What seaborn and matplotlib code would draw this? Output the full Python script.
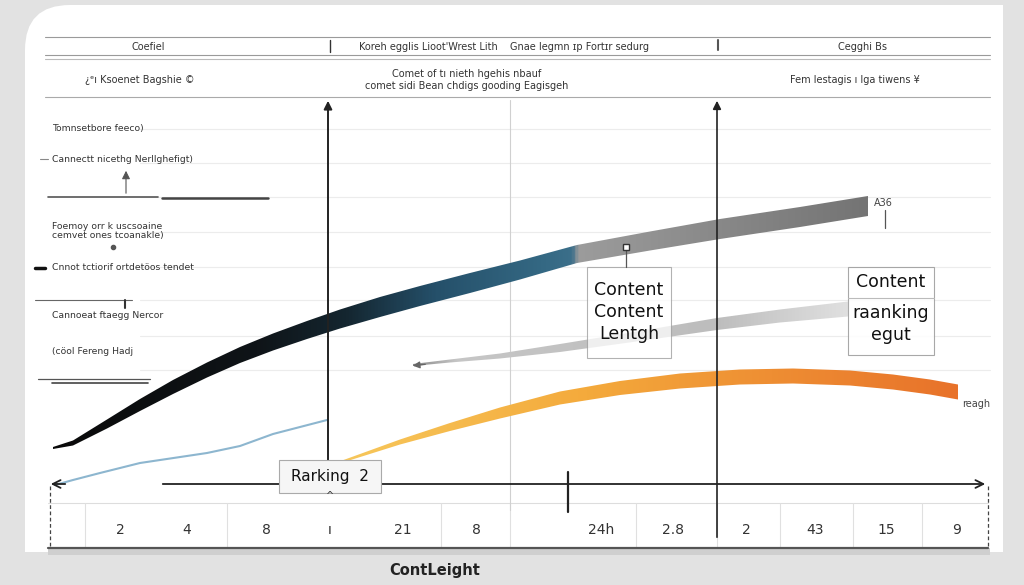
import numpy as np
import matplotlib
matplotlib.use("Agg")
import matplotlib.pyplot as plt
import seaborn as sns
from matplotlib.patches import FancyBboxPatch, Rectangle, Polygon
from matplotlib.colors import LinearSegmentedColormap

# ---- data (picture units) ----
main_x = [53, 73, 107, 140, 173, 207, 240, 273, 307, 340, 380, 420, 470, 520, 577, 650, 720, 800, 868]
main_y = [448, 443, 424, 405, 387, 370, 355, 342, 330, 319, 307, 296, 283, 270, 254, 241, 229, 217, 206]
main_w = [2, 5, 9, 12, 14, 15, 16, 17, 18, 19, 20, 20, 20, 19, 18, 19, 20, 20, 20]

gray_x = [413, 450, 500, 560, 640, 717, 780, 848]
gray_y = [365, 361, 356, 348, 336, 324, 316, 309]
gray_w = [2, 3, 5, 8, 10, 12, 13, 15]

orange_x = [338, 400, 450, 500, 560, 620, 680, 740, 793, 850, 893, 930, 958]
orange_y = [463, 442, 427, 413, 398, 388, 381, 377, 376, 378, 382, 387, 392]
orange_w = [2, 5, 8, 11, 13, 14, 15, 15, 15, 15, 15, 15, 15]

blue_x = [55, 73, 100, 140, 207, 240, 273, 327]
blue_y = [485, 480, 473, 463, 453, 446, 434, 420]

cell_vals = ["2", "4", "8", "ı", "21", "8", "24h", "2.8", "2", "43", "15", "9"]
cell_pos = [120, 187, 266, 330, 403, 476, 601, 673, 746, 815, 886, 957]
cell_edges = [85, 227, 441, 510, 636, 717, 780, 853, 922]

header1 = ["Coefiel", "Koreh egglis Lioot'Wrest Lith", "Gnae Iegmn ɪp Fortɪr sedurg", "Cegghi Bs"]
header1_x = [148, 428, 580, 862]
header2 = ["¿ᵉı Ksoenet Bagshie ©", "Comet of tı nieth hgehis nbauf\ncomet sidi Bean chdigs gooding Eagisgeh",
           "Fem lestagis ı lga tiwens ¥"]
header2_x = [140, 467, 855]

left_labels = ["Tomnsetbore feeco)", "Cannectt nicethg Nerllghefigt)",
               "Foemoy orr k uscsoaine\ncemvet ones tcoanakle)", "Cnnot tctiorif ortdetöos tendet",
               "Cannoeat ftaegg Nercor", "(cöol Fereng Hadj"]
left_y = [129, 159, 231, 268, 316, 351]

# ---- figure ----
sns.set_theme(style="white")
plt.rcParams['font.family'] = ['DejaVu Sans']
fig = plt.figure(figsize=(10.24, 5.85), dpi=100, facecolor="#e2e2e2")
ax = fig.add_axes([0, 0, 1, 1])
ax.set_xlim(0, 1024)
ax.set_ylim(585, 0)
ax.axis("off")

# panel
ax.add_patch(FancyBboxPatch((25, 5), 978, 547, boxstyle="round,pad=0,rounding_size=45",
                            facecolor="white", edgecolor="none", zorder=0))
ax.add_patch(Rectangle((500, 5), 503, 547, facecolor="white", edgecolor="none", zorder=0))
ax.add_patch(Rectangle((25, 300), 500, 252, facecolor="white", edgecolor="none", zorder=0))

# header rules
for yy, c, lw in [(37, "#9a9a9a", 0.8), (55, "#9a9a9a", 0.8), (59, "#bbbbbb", 0.8), (97, "#aaaaaa", 0.8)]:
    ax.plot([45, 990], [yy, yy], color=c, lw=lw, zorder=1)
ax.plot([330, 330], [40, 52], color="#333", lw=1, zorder=1)
ax.plot([718, 718], [40, 50], color="#555", lw=1.5, zorder=1)
for t, x in zip(header1, header1_x):
    ax.text(x, 47, t, ha="center", va="center", fontsize=7, color="#333")
for t, x in zip(header2, header2_x):
    ax.text(x, 80, t, ha="center", va="center", fontsize=7, color="#333", linespacing=1.3)

# faint gridlines
for yy in [129, 163, 197, 232, 267, 300, 336, 370]:
    ax.plot([140, 990], [yy, yy], color="#ececec", lw=0.8, zorder=1)

# left labels & decorations
for t, yy in zip(left_labels, left_y):
    ax.text(52, yy, t, ha="left", va="center", fontsize=6.7, color="#333", linespacing=1.1)
ax.plot([40, 48], [159, 159], color="#888", lw=0.8)
ax.plot([48, 158], [197, 197], color="#555", lw=1.2)
ax.plot([162, 268], [198, 198], color="#444", lw=1.8)
ax.annotate("", xy=(126, 168), xytext=(126, 196), arrowprops=dict(arrowstyle="-|>", color="#555", lw=0.8))
ax.plot([113], [247], marker="o", ms=3, color="#555")
ax.plot([35, 45], [268, 268], color="#111", lw=2.5)
ax.plot([35, 132], [300, 300], color="#666", lw=0.8)
ax.plot([125, 125], [300, 308], color="#333", lw=1.5)
ax.plot([38, 150], [379, 379], color="#555", lw=0.9)
ax.plot([52, 148], [383, 383], color="#444", lw=1.2)


def band(xs, ys, ws, colors, z):
    xs = np.asarray(xs, float)
    ys = np.asarray(ys, float)
    ws = np.asarray(ws, float)
    top, bot = ys - ws / 2, ys + ws / 2
    verts = np.concatenate([np.c_[xs, top], np.c_[xs[::-1], bot[::-1]]])
    poly = Polygon(verts, closed=True, facecolor="none", edgecolor="none")
    ax.add_patch(poly)
    cmap = LinearSegmentedColormap.from_list("g", colors)
    grad = np.linspace(0, 1, 512).reshape(1, -1)
    im = ax.imshow(grad, cmap=cmap, extent=[xs.min(), xs.max(), bot.max(), top.min()],
                   aspect="auto", zorder=z, interpolation="bilinear")
    im.set_clip_path(poly)


band(main_x, main_y, main_w,
     [(0, "#0a0a0a"), (0.25, "#0f1418"), (0.36, "#142630"), (0.47, "#25506a"),
      (0.60, "#346883"), (0.638, "#3c6f8a"), (0.645, "#9c9c9c"), (1, "#747474")], 3)
band(gray_x, gray_y, gray_w,
     [(0, "#8a8a8a"), (0.1, "#c6c6c6"), (0.7, "#bdbdbd"), (1, "#e0e0e0")], 3)
band(orange_x, orange_y, orange_w,
     [(0, "#f7c85c"), (0.4, "#f4aa3c"), (1, "#e8722a")], 3)
ax.annotate("", xy=(410, 366), xytext=(428, 364),
            arrowprops=dict(arrowstyle="-|>", color="#666", lw=1, mutation_scale=10), zorder=4)

# thin light blue line
sns.lineplot(x=blue_x, y=blue_y, ax=ax, color="#8db6cf", lw=1.5, sort=False, zorder=3)

# verticals
ax.plot([510, 510], [100, 510], color="#d0d0d0", lw=0.8, zorder=2)
ax.annotate("", xy=(328, 98), xytext=(328, 495),
            arrowprops=dict(arrowstyle="-|>", color="#222", lw=1.4, mutation_scale=12), zorder=5)
ax.annotate("", xy=(717, 98), xytext=(717, 540),
            arrowprops=dict(arrowstyle="-|>", color="#222", lw=1.2, mutation_scale=12), zorder=5)
ax.plot([568, 568], [472, 512], color="#222", lw=1.6, zorder=5)

# horizontal axis arrow
ax.annotate("", xy=(988, 484), xytext=(160, 484),
            arrowprops=dict(arrowstyle="->", color="#222", lw=1.3, mutation_scale=14), zorder=4)
ax.annotate("", xy=(48, 484), xytext=(68, 484),
            arrowprops=dict(arrowstyle="->", color="#222", lw=1.3, mutation_scale=14), zorder=4)

# bottom table
ax.plot([48, 988], [503, 503], color="#dddddd", lw=0.8, zorder=1)
ax.add_patch(Rectangle((48, 548), 942, 7, facecolor="#cfcfcf", edgecolor="none", zorder=1))
ax.plot([48, 988], [548, 548], color="#555", lw=1.6, zorder=2)
for xe in [50, 988]:
    ax.plot([xe, xe], [486, 548], color="#444", lw=0.9, ls=(0, (3, 2)), zorder=2)
for xe in cell_edges:
    ax.plot([xe, xe], [503, 548], color="#e0e0e0", lw=0.8, zorder=1)
for t, x in zip(cell_vals, cell_pos):
    ax.text(x, 530, t, ha="center", va="center", fontsize=10, color="#333")

# annotation boxes
ax.add_patch(Rectangle((587, 267), 84, 91, facecolor="white", alpha=0.75, edgecolor="#999", lw=0.8, zorder=6))
ax.text(629, 312, "Content\nContent\nLentgh", ha="center", va="center", fontsize=12.5,
        color="#111", linespacing=1.3, zorder=7)
ax.plot([626, 626], [248, 267], color="#555", lw=0.9, zorder=6)
ax.plot([626], [247], marker="s", ms=4, mfc="white", mec="#333", zorder=6)

ax.add_patch(Rectangle((848, 267), 86, 88, facecolor="white", alpha=0.85, edgecolor="#999", lw=0.8, zorder=6))
ax.plot([848, 934], [298, 298], color="#bbb", lw=0.8, zorder=7)
ax.text(891, 282, "Content", ha="center", va="center", fontsize=12.5, color="#111", zorder=7)
ax.text(891, 324, "raanking\negut", ha="center", va="center", fontsize=12.5, color="#111",
        linespacing=1.3, zorder=7)

ax.add_patch(Rectangle((279, 460), 102, 33, facecolor="#f6f6f6", edgecolor="#aaa", lw=0.8, zorder=6))
ax.text(330, 476, "Rarking  2", ha="center", va="center", fontsize=11, color="#111", zorder=7)
ax.text(330, 496, "^", ha="center", va="center", fontsize=7, color="#333", zorder=7)

ax.text(874, 203, "A36", ha="left", va="center", fontsize=7, color="#444")
ax.plot([885, 885], [210, 228], color="#555", lw=0.9)
ax.text(962, 404, "reagh", ha="left", va="center", fontsize=7, color="#444")

ax.text(435, 571, "ContLeight", ha="center", va="center", fontsize=10.5, fontweight="bold", color="#222")

ax.set_xlim(0, 1024)
ax.set_ylim(585, 0)
fig.savefig("out.png", dpi=100, facecolor=fig.get_facecolor())
